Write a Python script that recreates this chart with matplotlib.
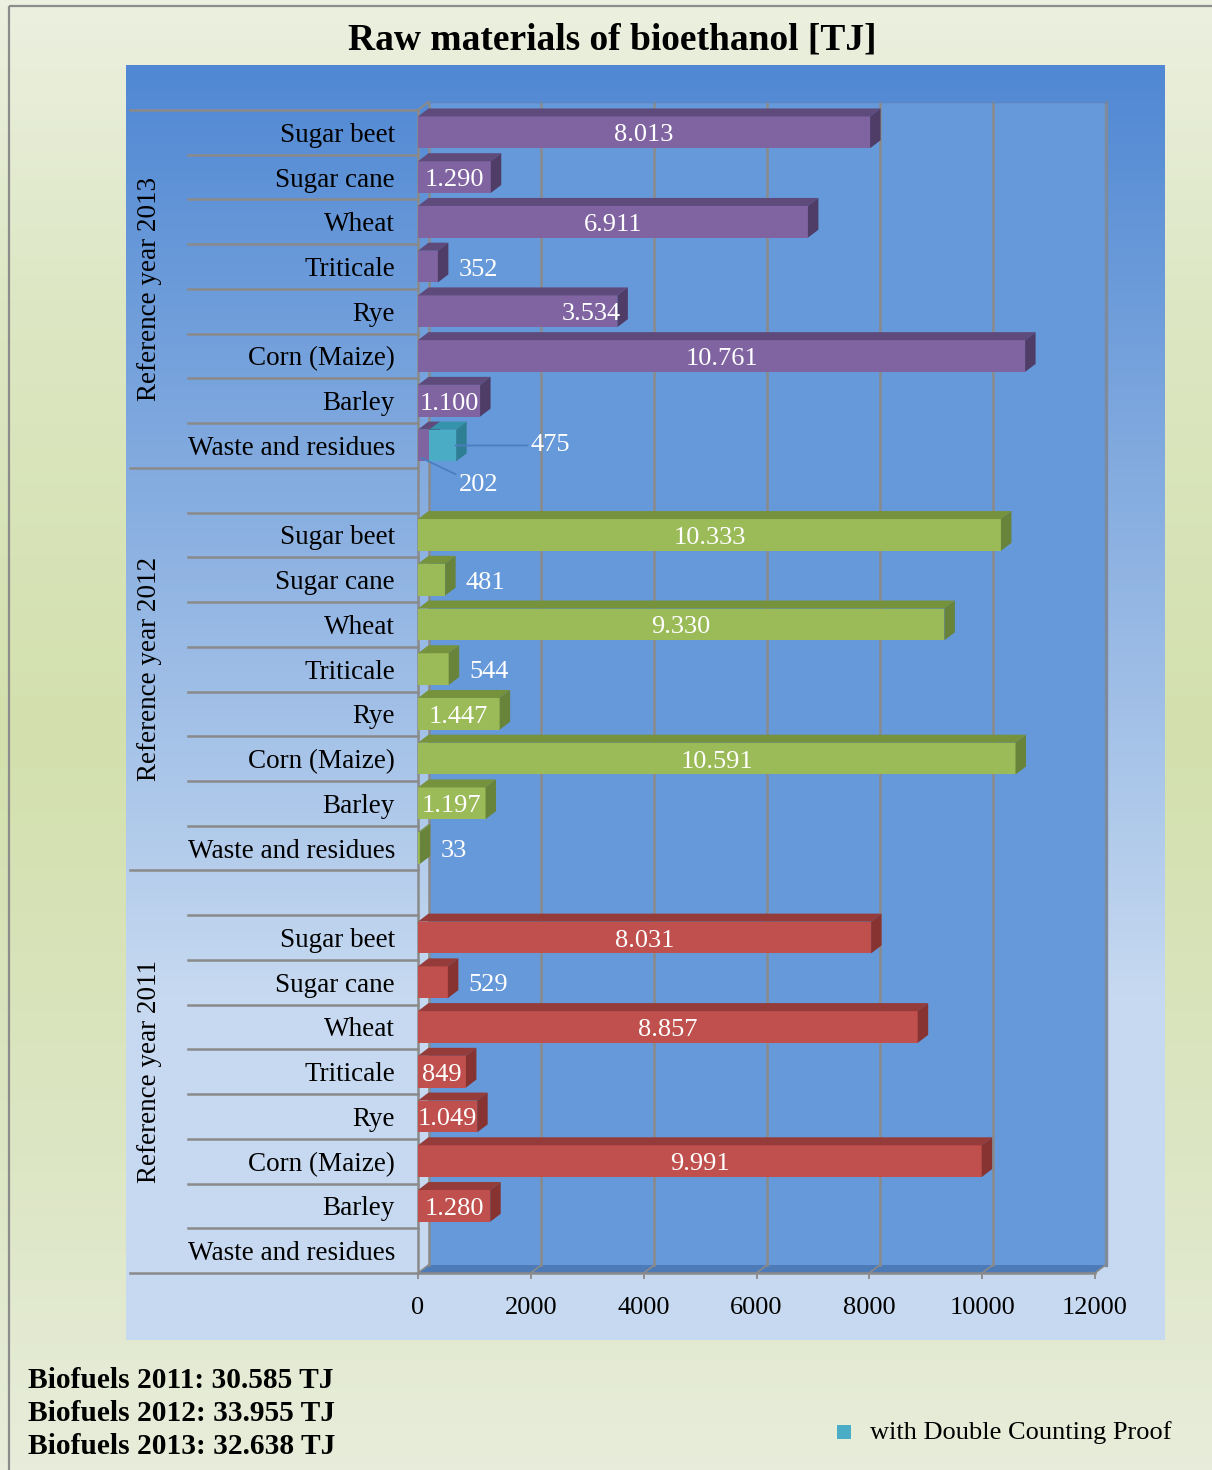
import numpy as np
import matplotlib
matplotlib.use('Agg')
import matplotlib.pyplot as plt
import matplotlib.transforms as mtransforms
from matplotlib.colors import LinearSegmentedColormap
from matplotlib.patches import Polygon, Rectangle

plt.rcParams['font.family'] = ['Liberation Serif', 'DejaVu Serif']

# Data (TJ)
categories = ['Sugar beet', 'Sugar cane', 'Wheat', 'Triticale', 'Rye',
              'Corn (Maize)', 'Barley', 'Waste and residues']
years = ['2013', '2012', '2011']
tj_2013 = [8013, 1290, 6911, 352, 3534, 10761, 1100, 202]
tj_2012 = [10333, 481, 9330, 544, 1447, 10591, 1197, 33]
tj_2011 = [8031, 529, 8857, 849, 1049, 9991, 1280, None]
dcp_2013 = [0, 0, 0, 0, 0, 0, 0, 475]   # with Double Counting Proof
total_years = [2011, 2012, 2013]
total_tj = [30585, 33955, 32638]
x_ticks = [0, 2000, 4000, 6000, 8000, 10000, 12000]

# front / top / side colours per series
purple = ('#8064a2', '#5f4a7c', '#4f3d67')
green = ('#9bbb59', '#76923c', '#68833a')
red = ('#c0504d', '#953b39', '#873331')
teal = ('#4bacc6', '#3593ab', '#2f7f94')
GREY = '#8a8a8a'

W, H = 1212, 1470
fig = plt.figure(figsize=(W / 100, H / 100), dpi=100)


def fmt(v):
    return f'{v:,}'.replace(',', '.')


# background layers in pixel coordinates
bg = fig.add_axes([0, 0, 1, 1], zorder=-10)
bg.set_xlim(0, W)
bg.set_ylim(H, 0)
bg.axis('off')

outer = LinearSegmentedColormap.from_list('outer', [
    (0.0, '#ecf0e0'), (0.2, '#dde7c4'), (0.5, '#d3e0ad'),
    (0.8, '#dde6c5'), (1.0, '#e8eddb')])
bg.imshow(np.linspace(0, 1, 256).reshape(-1, 1), cmap=outer, aspect='auto',
          extent=[0, W, H, 0], zorder=0)
bg.add_patch(Rectangle((9, 6), W + 20, H + 20, fill=False, ec='#8c8c8c', lw=1.6, zorder=1))

panel = LinearSegmentedColormap.from_list('panel', [
    (0.0, '#5088d3'), (0.73, '#c6d9f0'), (1.0, '#c6d9f0')])
bg.imshow(np.linspace(0, 1, 256).reshape(-1, 1), cmap=panel, aspect='auto',
          extent=[126, 1165, 1340, 65], zorder=2)

# legend entry and totals
bg.add_patch(Rectangle((837, 1425), 14, 14, fc=teal[0], ec='none', zorder=3))
bg.text(870, 1433, 'with Double Counting Proof', fontsize=19, va='center', ha='left')
for i, (yr, tot) in enumerate(zip(total_years, total_tj)):
    bg.text(28, 1380 + i * 33.3, f'Biofuels {yr}: {fmt(tot)} TJ', fontsize=21.2,
            fontweight='bold', va='center', ha='left')

fig.text(612 / W, 1 - 40 / H, 'Raw materials of bioethanol [TJ]', fontsize=27,
         fontweight='bold', ha='center', va='center')

# row layout: 2012 and 2011 start with an empty row
rows = []
group_spans = []
slot = 0
for gi, (year, vals, col) in enumerate([('2013', tj_2013, purple),
                                        ('2012', tj_2012, green),
                                        ('2011', tj_2011, red)]):
    start = slot
    if gi > 0:
        slot += 1
    for j, (cat, v) in enumerate(zip(categories, vals)):
        extra = dcp_2013[j] if year == '2013' else 0
        rows.append((slot, year, cat, v, extra, col))
        slot += 1
    group_spans.append((year, start, slot))
N = slot

XMAX = 12000
ax = fig.add_axes([418 / W, (H - 1273) / H, 677 / W, 1163 / H])
ax.set_facecolor('none')
ax.set_xlim(0, XMAX)
ax.set_ylim(N, 0)
for s in ax.spines.values():
    s.set_visible(False)

# depth of the 3-D effect, in data units
PX = XMAX / 677.0
PY = N / 1163.0
DX = 10.5 * PX
DY = 8.0 * PY
BAR_H = 0.71

# back wall, floor and grid
ax.add_patch(Rectangle((DX, -DY), XMAX, N, fc='#6699d9', ec='none', zorder=0, clip_on=False))
ax.add_patch(Polygon([(0, N), (DX, N - DY), (XMAX + DX, N - DY), (XMAX, N)],
                     fc='#4d7bb8', ec='none', zorder=0.5, clip_on=False))
for t in x_ticks:
    ax.plot([t + DX, t + DX], [-DY, N - DY], color=GREY, lw=1.8, zorder=1, clip_on=False)
    ax.plot([t, t + DX], [N, N - DY], color=GREY, lw=1.2, zorder=1, clip_on=False)
ax.plot([XMAX + DX] * 2, [-DY, N - DY], color='#7f8a9a', lw=2.4, zorder=1, clip_on=False)
ax.plot([DX, XMAX + DX], [-DY, -DY], color='#5a86c5', lw=1.0, zorder=1, clip_on=False)
ax.plot([0, 0], [0, N], color=GREY, lw=1.8, zorder=1, clip_on=False)
ax.plot([0, DX], [0, -DY], color=GREY, lw=1.5, zorder=1, clip_on=False)
ax.plot([0, XMAX], [N, N], color=GREY, lw=1.8, zorder=1, clip_on=False)

# row separators in the category area
sep = mtransforms.blended_transform_factory(ax.transAxes, ax.transData)
long_lines = {0, N} | {b for _, _, b in group_spans}
for b in range(N + 1):
    x0 = (130 - 418) / 677 if b in long_lines else (188 - 418) / 677
    ax.plot([x0, 0], [b, b], color=GREY, lw=1.8, transform=sep, clip_on=False, zorder=1)

for year, a, b in group_spans:
    ax.text((150 - 418) / 677, (a + b) / 2, f'Reference year {year}', transform=sep,
            rotation=90, ha='center', va='center', fontsize=19.5)


def bar3d(x0, x1, yc, colors):
    front, top, side = colors
    y0, y1 = yc - BAR_H / 2, yc + BAR_H / 2
    ax.barh(yc, x1 - x0, left=x0, height=BAR_H, color=front, zorder=3)
    ax.add_patch(Polygon([(x0, y0), (x0 + DX, y0 - DY), (x1 + DX, y0 - DY), (x1, y0)],
                         fc=top, ec='none', zorder=3, clip_on=False))
    ax.add_patch(Polygon([(x1, y0), (x1 + DX, y0 - DY), (x1 + DX, y1 - DY), (x1, y1)],
                         fc=side, ec='none', zorder=3, clip_on=False))


label_inside_end = {('2013', 'Rye')}
lbl = dict(color='white', fontsize=19, va='center', zorder=5, textcoords='offset pixels')
leader = dict(arrowstyle='-', color='#4a7ec0', lw=1.3, shrinkA=0, shrinkB=0)
DROP = -3  # value labels sit slightly below the row centre

for s, year, cat, v, extra, col in rows:
    yc = s + 0.5
    if v is None:
        continue
    bar3d(0, v, yc, col)
    if extra:
        bar3d(v, v + extra, yc, teal)
        ax.annotate(fmt(extra), xy=(v + extra * 0.97, yc), xytext=(75, 0),
                    ha='left', arrowprops=leader, **lbl)
        ax.annotate(fmt(v), xy=(v * 0.3, yc + 0.28), xytext=(37, -27),
                    ha='left', arrowprops=leader, **lbl)
        continue
    if (year, cat) in label_inside_end:
        ax.annotate(fmt(v), xy=(v, yc), xytext=(3, DROP), ha='right', **lbl)
    elif v >= 800:
        ax.annotate(fmt(v), xy=(v / 2, yc), xytext=(0, DROP), ha='center', **lbl)
    else:
        ax.annotate(fmt(v), xy=(v, yc), xytext=(10.5 + 10, DROP), ha='left', **lbl)

# axes ticks and labels
ax.set_xticks(x_ticks)
ax.set_xticklabels([str(t) for t in x_ticks], fontsize=19)
ax.tick_params(axis='x', length=4.5, width=1.3, color=GREY, pad=13)
ax.set_yticks([r[0] + 0.5 for r in rows])
ax.set_yticklabels([r[2] for r in rows], fontsize=19.5)
ax.tick_params(axis='y', length=0, pad=16.5)

fig.savefig('out.png', dpi=100)
plt.close(fig)
